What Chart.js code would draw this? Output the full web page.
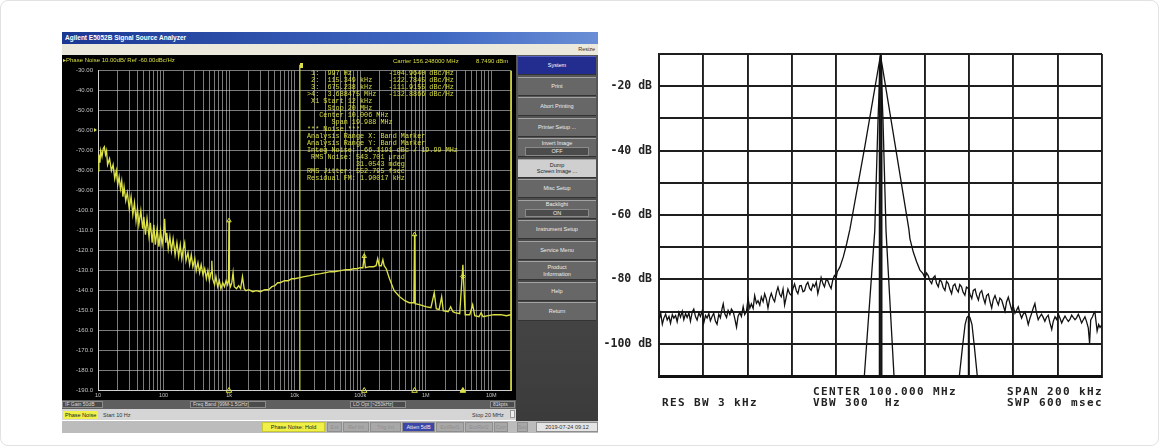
<!DOCTYPE html>
<html>
<head>
<meta charset="utf-8">
<script src="https://cdn.jsdelivr.net/npm/chart.js@4.4.0/dist/chart.umd.min.js"></script>
<style>
  body { margin: 0; background: #fff; width: 1159px; height: 446px; overflow: hidden; position: relative; font-family: "Liberation Sans", sans-serif; }
  .abs { position: absolute; }
  .frame { left: 0; top: 0; width: 1157px; height: 444px; border: 1px solid #e2e2e2; border-radius: 8px; }
  .title { left: 62px; top: 32px; width: 536px; height: 12px; background: linear-gradient(to right, #1b3893, #3f68c2 70%, #6a8fd6); color: #fff; font: bold 6.5px/12px "Liberation Sans"; padding-left: 3px; box-sizing: border-box; }
  .menu { left: 62px; top: 44px; width: 536px; height: 11px; background: #ebe8dc; color: #333; font: 5.5px/11px "Liberation Sans"; text-align: right; padding-right: 3px; box-sizing: border-box; }
  .yel { color: #d9df45; font: 6px/7px "Liberation Sans"; white-space: pre; }
  .readout { left: 307px; top: 69.8px; color: #d9df45; font: 6.8px/7px "Liberation Mono", monospace; white-space: pre; }
  .side { left: 516px; top: 55px; width: 82px; height: 366px; background: linear-gradient(#595959, #3b3b3b); }
  .key { position: absolute; left: 2px; width: 78px; height: 19px; background: #676767; border-top: 1px solid #a3a3a3; border-bottom: 1px solid #333; box-sizing: border-box; color: #eee; font: 5.5px/6.5px "Liberation Sans"; text-align: center; display: flex; flex-direction: column; justify-content: center; align-items: center; }
  .key .sub { background: #4c4c4c; border: 1px solid #8a8a8a; width: 62px; margin-top: 1px; }
  .rowA { left: 62px; top: 400px; width: 454px; height: 9px; background: #5f5f5f; }
  .rowB { left: 62px; top: 409px; width: 454px; height: 11px; background: #d5d5d5; }
  .rowC { left: 62px; top: 421px; width: 536px; height: 12px; background: #bcbcbc; }
  .box { position: absolute; top: 1px; height: 7px; background: #4b4b4b; border: 1px solid #8c8c8c; box-sizing: border-box; color: #ddd; font: 5px/5.5px "Liberation Sans"; padding: 0 2px; white-space: nowrap; }
  .cbox { position: absolute; top: 1px; height: 10px; background: #a8a8a8; border: 1px solid #8e8e8e; box-sizing: border-box; color: #8f8f8f; font: 5.5px/8.5px "Liberation Sans"; text-align: center; white-space: nowrap; overflow: hidden; }
  .sa { color: #222; font: bold 11px/12px "DejaVu Sans Mono", monospace; letter-spacing: 1.38px; white-space: pre; }
</style>
</head>
<body>
<div class="abs frame"></div>

<!-- left: E5052B screenshot -->
<div class="abs title">Agilent E5052B Signal Source Analyzer</div>
<div class="abs menu">Resize</div>
<canvas id="pn" class="abs" style="left:62px;top:55px;background:#000" width="454" height="345"></canvas>
<div class="abs yel" style="left:63px;top:57px">&#9656;Phase Noise 10.00dB/ Ref -60.00dBc/Hz</div>
<div class="abs yel" style="left:393px;top:57.5px">Carrier 156.248000 MHz</div>
<div class="abs yel" style="left:476px;top:57.5px">8.7490 dBm</div>
<div class="abs" style="left:94px;top:128px;width:0;height:0;border-left:3px solid #d9df45;border-top:2.5px solid transparent;border-bottom:2.5px solid transparent"></div>
<div class="abs" style="left:300px;top:63px;width:3px;height:5px;background:#d9df45"></div>
<div class="abs readout" id="readout"></div>

<div class="abs side" id="side"></div>

<div class="abs rowA">
  <div class="box" style="left:0;width:41px">IF Gain 50dB</div>
  <div class="box" style="left:128px;width:76px">Freq Band [99M-1.5GHz]</div>
  <div class="box" style="left:288px;width:56px">LO Opt [&gt;250kHz]</div>
  <div class="box" style="left:428px;width:25px">81kpts</div>
</div>
<div class="abs rowB">
  <div class="abs" style="left:1px;top:1.5px;height:8px;padding:0 2px;background:#f0f048;color:#222;font:5.5px/8px 'Liberation Sans'">Phase Noise</div>
  <div class="abs" style="left:41px;top:1.5px;color:#333;font:5.5px/8px 'Liberation Sans'">Start 10 Hz</div>
  <div class="abs" style="left:410px;top:1.5px;color:#333;font:5.5px/8px 'Liberation Sans'">Stop 20 MHz</div>
  <div class="abs" style="left:448px;top:1px;width:5px;height:8px;background:#eee;border:1px solid #999;box-sizing:border-box"></div>
</div>
<div class="abs rowC" id="rowC"></div>

<!-- right: spectrum analyzer plot -->
<canvas id="sa" class="abs" style="left:600px;top:40px" width="510" height="350"></canvas>
<div class="abs sa" style="left:813px;top:386px">CENTER 100.000 MHz</div>
<div class="abs sa" style="left:813px;top:396.5px">VBW 300  Hz</div>
<div class="abs sa" style="left:662px;top:396.5px">RES BW 3 kHz</div>
<div class="abs sa" style="left:1007px;top:386px">SPAN 200 kHz</div>
<div class="abs sa" style="left:1007px;top:396.5px">SWP 600 msec</div>

<script>
// ---- phase noise trace (Hz, dBc/Hz) ----
const pnFreq = [10, 10.3, 10.7, 11, 11.5, 12, 12.5, 13, 13.5, 14, 15, 16, 17, 18, 19, 20, 21, 22, 23, 24, 25, 26.5, 28, 30, 32, 34, 36, 38, 40, 42, 45, 48, 50, 53, 56, 60, 63, 67, 71, 75, 80, 85, 90, 95,
  100, 104, 108, 112, 118, 125, 132, 140, 150, 160, 170, 180, 190, 200, 210, 220, 236, 250, 265, 280, 300, 315, 335, 355, 375, 400, 425, 450, 475, 500, 530, 545, 560, 600, 630, 670, 710, 750, 800, 850, 900, 950, 980, 997,
  1010, 1050, 1100, 1150, 1200, 1300, 1400, 1500, 1600, 1700, 1800, 2000, 2300, 2600, 3000, 3500, 4000, 4500, 5000, 5500, 6000, 7000, 8000, 9000,
  10000, 12000, 14000, 17000, 20000, 25000, 30000, 35000, 40000, 50000, 60000, 70000, 80000, 90000,
  100000, 110000, 115349, 120000, 140000, 160000, 175000, 185000, 195000, 210000, 222000, 232000, 250000, 280000, 330000, 400000, 480000, 560000, 660000, 675238, 690000, 800000,
  1000000, 1200000, 1350000, 1450000, 1600000, 1750000, 1850000, 2200000, 2400000, 2600000, 2800000, 3300000, 3688475, 4000000, 4700000, 5200000, 5600000, 6500000, 7000000, 7500000, 9000000,
  11000000, 14000000, 17000000, 20000000];
const pnLevel = [-80, -72, -76, -70, -73, -69, -68, -72, -70, -77, -74, -80, -77, -84, -80, -87, -83, -89, -85, -93, -88, -95, -91, -99, -93, -102, -96, -105, -99, -107, -100, -109, -103, -112, -104, -113, -106, -116, -107, -117, -109, -118, -110, -117,
  -112, -104, -116, -111, -119, -113, -120, -114, -122, -116, -123, -117, -124, -119, -116, -125, -121, -127, -122, -128, -124, -130, -126, -131, -127, -132, -129, -134, -130, -135, -131, -125, -134, -137, -133, -138, -135, -139, -136, -138, -135, -137, -134, -105,
  -136, -138, -136, -131, -138, -139, -137.5, -139, -133, -139, -140, -139.5, -140.5, -140, -140.5, -139.5, -139.5, -138, -137.5, -136, -136, -135, -135, -134,
  -134, -133.5, -133, -132.5, -132, -131.5, -131, -130.5, -130.5, -130, -129.5, -129.5, -129, -129,
  -128.5, -128.5, -122.8, -128.5, -128, -128, -127.5, -124, -127.5, -127.5, -124.5, -127.5, -129, -134, -140, -143, -145, -146, -146, -112, -146.5, -147,
  -148, -148.5, -141, -149, -149.5, -143, -150, -150.5, -148, -150.5, -151, -151.5, -127, -152, -152, -147, -152.5, -153, -151, -153, -152.5,
  -152, -152, -152.5, -152];
const pnMarkerFreq = [997, 115349, 675238, 3688475];
const pnMarkerLevel = [-104.964, -122.7845, -111.9155, -132.8866];
const pnDecades = [10, 100, 1e3, 1e4, 1e5, 1e6, 1e7];
const pnDecadeLabels = ['10', '100', '1k', '10k', '100k', '1M', '10M'];
const pnStartStop = [12000, 20000000];

const readoutLines = [
  ' 1:  997 Hz         -104.9640 dBc/Hz',
  ' 2:  115.349 kHz    -122.7845 dBc/Hz',
  ' 3:  675.238 kHz    -111.9155 dBc/Hz',
  '>4:  3.688475 MHz   -132.8866 dBc/Hz',
  ' X1 Start 12 kHz',
  '     Stop 20 MHz',
  '   Center 10.006 MHz',
  '      Span 19.988 MHz',
  '*** Noise ***',
  'Analysis Range X: Band Marker',
  'Analysis Range Y: Band Marker',
  'Integ Noise: -66.1191 dBc / 19.99 MHz',
  ' RMS Noise: 543.701 \u00b5rad',
  '            31.0543 mdeg',
  'RMS Jitter: 552.795 fsec',
  'Residual FM: 1.90017 kHz'
];
const softkeys = ['System', 'Print', 'Abort Printing', 'Printer Setup ...', 'Invert Image|OFF', 'Dump|Screen Image ...', 'Misc Setup', 'Backlight|ON', 'Instrument Setup', 'Service Menu', 'Product|Information', 'Help', 'Return'];
const statusKeys = ['Ext', 'Ref Int', 'Trig Int', 'Atten 5dB', 'ExtRef1', 'ExtRef2', 'Corr', 'Svc'];

// ---- spectrum analyzer traces (kHz offset from 100 MHz, dB) ----
const saOffset = [-99.9, -99.2, -98.5, -97.8, -97.0, -96.3, -95.5, -94.8, -94.0, -93.3, -92.5, -91.8, -91.0, -90.3, -89.5, -88.8, -88.0, -87.3, -86.5, -85.8,
  -85.0, -84.3, -83.5, -82.8, -82.0, -81.3, -80.5, -79.8, -79.0, -78.3, -77.5, -76.8, -76.0, -75.3, -74.5, -73.8, -73.0, -72.3, -71.5, -71.0,
  -70.3, -69.5, -68.8, -68.0, -67.3, -66.5, -65.8, -65.0, -64.3, -63.5, -62.8, -62.0, -61.3, -60.5, -59.8, -59.0, -58.3, -57.5, -56.8, -56.0,
  -55.3, -54.5, -53.8, -53.0, -52.3, -51.5, -50.8, -50.0, -49.3, -48.5, -47.8, -47.0, -46.3, -45.5, -44.8, -44.0, -43.3, -42.5, -41.8, -41.0,
  -40.3, -39.5, -38.8, -38.0, -37.3, -36.5, -35.8, -35.0, -34.3, -33.5, -32.8, -32.0, -31.3, -30.5, -29.8, -29.0, -28.3, -27.5, -26.8, -26.0,
  -25.3, -24.5, -23.8, -23.0, -22.3, -21.5, -20.8, -20.0, -19.5, -18.3, -16.8, -15.3, -13.8, -7.0, 0, 6.4, 12.8, 13.3, 14.8, 16.3, 17.8, 19.2, 20.1,
  20.8, 21.6, 22.3, 23.1, 23.8, 24.6, 25.3, 26.1, 26.8, 27.6, 28.3, 29.1, 29.8, 30.6, 31.3, 32.1, 32.8, 33.6, 34.3, 35.1,
  35.8, 36.6, 37.3, 38.1, 38.8, 39.7, 40.4, 41.2, 41.9, 42.7, 43.4, 44.2, 44.9, 45.7, 46.4, 47.2, 47.9, 48.7, 49.4, 50.2,
  50.9, 51.7, 52.4, 53.2, 53.9, 54.7, 55.4, 56.2, 56.9, 57.7, 58.4, 59.2, 59.9, 60.7, 61.4, 62.2, 62.9, 63.7, 64.4, 65.2,
  65.9, 66.7, 67.4, 68.2, 68.9, 69.7, 70.4, 71.2, 71.9, 72.7, 73.4, 74.2, 74.9, 75.7, 76.5, 77.3, 78.0, 78.8, 79.5, 80.3,
  81.0, 81.8, 82.5, 83.3, 84.0, 84.8, 85.5, 86.3, 87.0, 87.8, 88.5, 89.3, 90.0, 90.8, 91.5, 92.3, 93.0, 93.8, 94.4, 94.9,
  95.7, 96.3, 96.8, 97.3, 97.8, 98.5, 99.1, 99.9];
const saLevel = [-92.5, -90.5, -93.9, -92.0, -90.8, -92.6, -91.5, -93.6, -90.9, -92.0, -91.2, -93.1, -90.2, -91.7, -89.9, -92.5, -90.6, -91.8, -90.4, -93.0,
  -90.1, -89.2, -91.6, -92.6, -90.4, -91.5, -89.8, -93.5, -91.2, -92.0, -90.6, -92.8, -91.4, -90.5, -93.0, -93.9, -90.8, -91.9, -89.0, -87.6,
  -90.7, -91.8, -89.6, -90.9, -89.2, -90.0, -92.1, -94.8, -91.4, -90.3, -91.5, -88.4, -90.9, -89.8, -86.0, -88.9, -87.6, -89.0, -85.0, -87.4,
  -86.6, -88.0, -85.4, -86.9, -84.5, -86.2, -88.9, -85.8, -84.3, -86.0, -86.9, -84.0, -82.4, -84.6, -85.4, -83.0, -87.9, -85.3, -83.0, -84.4,
  -84.9, -82.8, -81.4, -83.5, -84.4, -82.0, -81.9, -83.8, -83.5, -81.6, -80.9, -82.8, -83.4, -81.5, -82.3, -80.8, -84.4, -82.0, -79.4, -81.3,
  -82.3, -80.0, -80.4, -81.9, -82.8, -80.0, -78.8, -79.5, -77.6, -76.1, -73.0, -69.0, -64.4, -38.5, -10.4, -37.4, -64.4, -67.4, -71.5, -74.5, -77.1, -78.2, -79.6,
  -78.0, -78.9, -80.4, -81.3, -79.5, -78.9, -81.2, -82.3, -80.0, -80.8, -82.5, -83.4, -80.6, -81.3, -83.0, -84.4, -82.0, -81.4, -83.0, -83.9,
  -81.6, -82.3, -84.0, -84.9, -82.4, -82.8, -84.6, -85.9, -83.4, -83.0, -85.0, -86.4, -84.2, -83.5, -85.6, -87.4, -85.0, -84.5, -86.8, -88.9,
  -86.3, -85.0, -86.5, -87.9, -85.8, -86.4, -88.0, -89.9, -87.0, -85.5, -87.4, -89.4, -88.2, -90.5, -89.6, -88.5, -90.4, -92.0, -90.8, -90.1,
  -91.6, -94.0, -92.2, -90.6, -89.0, -87.5, -90.3, -92.5, -91.6, -90.8, -91.7, -93.0, -91.8, -91.1, -93.5, -95.5, -93.0, -91.6, -92.4, -90.8,
  -92.0, -93.5, -92.4, -91.4, -92.2, -93.0, -92.4, -91.1, -91.8, -92.5, -91.9, -90.8, -92.0, -93.5, -92.6, -91.6, -93.0, -95.0, -99.9, -92.6,
  -91.6, -90.5, -90.1, -93.0, -96.0, -94.0, -94.9, -94.1];
const saNarrowOffset = [-7.3, -2.6, -1.1, 0, 1.1, 2.5, 6.1];
const saNarrowLevel = [-110, -65, -30, -10.4, -30, -65, -110];
const saSpikeOffset = [-0.6, -0.5, 0, 0.5, 0.6];
const saSpikeLevel = [-110, -14, -10.4, -14, -110];
const saSideOffset = [35.6, 37.0, 38.2, 39.0, 39.7, 40.4, 41.3, 42.4, 43.7];
const saSideLevel = [-110, -101, -94, -91.8, -91.3, -91.8, -94, -101, -110];
const saLabelValues = [-20, -40, -60, -80, -100];

const pts = (xs, ys) => xs.map((x, i) => ({ x: x, y: ys[i] }));

// fill html parts
document.getElementById('readout').textContent = readoutLines.join('\n');
const side = document.getElementById('side');
softkeys.forEach((k, i) => {
  const d = document.createElement('div');
  d.className = 'key';
  d.style.top = (1 + i * 20.5) + 'px';
  const parts = k.split('|');
  d.innerHTML = '<span>' + parts[0] + '</span>' + (parts[1] ? (parts[1] === 'OFF' || parts[1] === 'ON' ? '<span class="sub">' + parts[1] + '</span>' : '<span>' + parts[1] + '</span>') : '');
  if (i === 0) { d.style.background = '#232d90'; d.style.borderTopColor = '#5560c0'; d.style.color = '#fff'; }
  if (i === 5) { d.style.background = '#cfcfcf'; d.style.color = '#222'; }
  side.appendChild(d);
});
const rowC = document.getElementById('rowC');
const phHold = document.createElement('div');
phHold.className = 'cbox';
phHold.style.cssText = 'left:200px;width:63px;background:#f0f048;color:#222;border-color:#c8c830';
phHold.textContent = 'Phase Noise: Hold';
rowC.appendChild(phHold);
const boxW = [15, 26, 31, 33, 28, 28, 14, 11];
let bx = 265;
statusKeys.forEach((k, i) => {
  const d = document.createElement('div');
  d.className = 'cbox';
  d.style.left = bx + 'px';
  d.style.width = boxW[i] + 'px';
  if (k === 'Atten 5dB') { d.style.background = '#3b46a8'; d.style.color = '#eee'; }
  d.textContent = k;
  rowC.appendChild(d);
  bx += boxW[i] + 1;
  if (i === 6) bx = 455;
});
const date = document.createElement('div');
date.className = 'cbox';
date.style.cssText = 'left:474px;width:62px;background:#e4e4e4;color:#333';
date.textContent = '2019-07-24 09:12';
rowC.appendChild(date);

// ---- left chart: phase noise ----
const gridFreqs = [];
pnDecades.forEach(d => { for (let m = 1; m <= 9; m++) if (d * m <= pnStartStop[1]) gridFreqs.push(d * m); });
const pnYellow = '#dbe146';

new Chart(document.getElementById('pn'), {
  type: 'line',
  data: {
    datasets: [
      { data: pts(pnFreq, pnLevel), borderColor: pnYellow, borderWidth: 1.35, pointRadius: 0, tension: 0 },
      { data: [{ x: pnStartStop[0], y: -190 }, { x: pnStartStop[0], y: -27 }], borderColor: pnYellow, borderWidth: 1.2, pointRadius: 0, clip: false },
      { data: [{ x: pnStartStop[1], y: -190 }, { x: pnStartStop[1], y: -30 }], borderColor: pnYellow, borderWidth: 1.6, pointRadius: 0, clip: false },
      { data: pts(pnMarkerFreq, pnMarkerFreq.map(() => -190)), showLine: false, pointStyle: 'triangle', pointRadius: 3.2, borderWidth: 1,
        borderColor: pnYellow, backgroundColor: c => c.dataIndex === 3 ? pnYellow : 'rgba(0,0,0,0)', clip: false },
      { data: pts(pnMarkerFreq, pnMarkerLevel), showLine: false, pointStyle: c => c.dataIndex === 3 ? 'rectRot' : 'triangle', pointRadius: 2.5, borderWidth: 1,
        borderColor: pnYellow, backgroundColor: 'rgba(0,0,0,0)' }
    ]
  },
  options: {
    responsive: false, animation: false, events: [],
    layout: { padding: { top: 15.7, right: 4, left: 0, bottom: 0 } },
    plugins: { legend: { display: false }, tooltip: { enabled: false } },
    scales: {
      x: {
        type: 'logarithmic', min: 10, max: pnStartStop[1],
        afterBuildTicks: s => { s.ticks = gridFreqs.map(v => ({ value: v })); },
        afterFit: s => { s.height = 9.3; },
        grid: { color: 'rgba(205,205,205,0.6)', lineWidth: 1, drawTicks: false },
        border: { color: '#cfcfcf' },
        ticks: {
          autoSkip: false, maxRotation: 0, padding: 1.5, color: '#c4c4c4', font: { size: 5.5, family: 'Liberation Sans' },
          callback: v => { const i = pnDecades.indexOf(v); return i < 0 ? '' : pnDecadeLabels[i]; }
        }
      },
      y: {
        min: -190, max: -30,
        afterFit: s => { s.width = 36; },
        grid: { color: 'rgba(205,205,205,0.6)', lineWidth: 1, drawTicks: false },
        border: { color: '#cfcfcf' },
        ticks: { stepSize: 10, padding: 5, color: '#c4c4c4', font: { size: 6, family: 'Liberation Sans' },
          callback: v => v > -100 ? v.toFixed(2) : v.toFixed(1) }
      }
    }
  }
});

// ---- right chart: spectrum ----
const saLine = { borderColor: '#111', borderWidth: 1.3, pointRadius: 0, tension: 0 };
new Chart(document.getElementById('sa'), {
  type: 'line',
  data: {
    datasets: [
      Object.assign({ data: pts(saOffset, saLevel) }, saLine),
      Object.assign({ data: pts(saNarrowOffset, saNarrowLevel) }, saLine),
      Object.assign({ data: pts(saSpikeOffset, saSpikeLevel) }, saLine),
      Object.assign({ data: pts(saSideOffset, saSideLevel) }, saLine),
      Object.assign({ data: [{ x: saSideOffset[4], y: -110 }, { x: saSideOffset[4], y: saSideLevel[4] }] }, saLine)
    ]
  },
  options: {
    responsive: false, animation: false, events: [],
    layout: { padding: { top: 11, right: 8, left: 0, bottom: 0 } },
    plugins: { legend: { display: false }, tooltip: { enabled: false } },
    scales: {
      x: {
        type: 'linear', min: -100, max: 100,
        afterFit: s => { s.height = 10; },
        ticks: { stepSize: 20, display: false },
        grid: { color: '#1e1e1e', lineWidth: 1.9, drawTicks: false },
        border: { color: '#111', width: 3 }
      },
      y: {
        min: -110, max: -10,
        afterFit: s => { s.width = 59; },
        ticks: { stepSize: 10, padding: 7, color: '#222', font: { size: 11.5, family: 'DejaVu Sans Mono', weight: 'bold' },
          callback: v => saLabelValues.includes(v) ? v + ' dB' : '' },
        grid: { color: '#1e1e1e', lineWidth: 1.9, drawTicks: false },
        border: { color: '#1e1e1e', width: 1.9 }
      }
    }
  }
});
</script>
</body>
</html>
